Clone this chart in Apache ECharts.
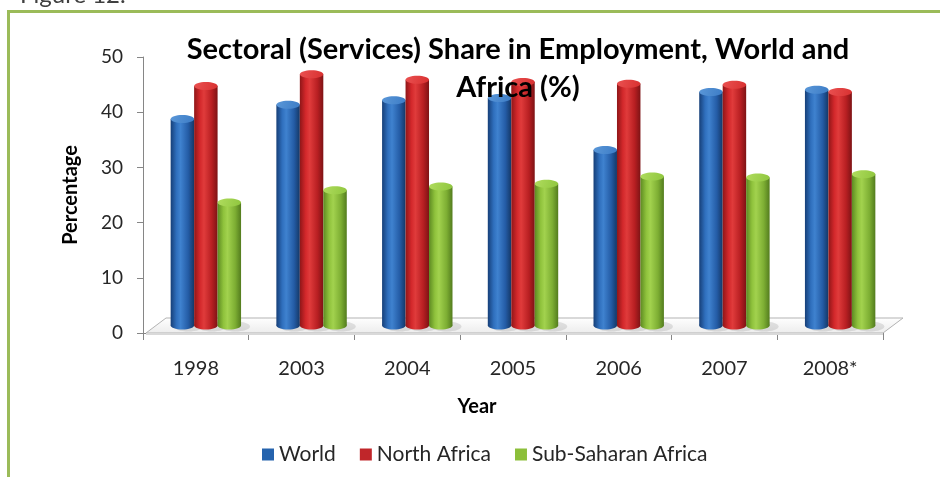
<!DOCTYPE html>
<html>
<head>
<meta charset="utf-8">
<script src="https://cdn.jsdelivr.net/npm/echarts@6/dist/echarts.min.js"></script>
<style>
  html, body { margin: 0; padding: 0; background: #ffffff; }
  #chart { width: 940px; height: 477px; }
</style>
</head>
<body>
<div id="chart"></div>
<script>
// Services share of total employment (%), by year and region
const years = ['1998', '2003', '2004', '2005', '2006', '2007', '2008*'];
const world = [37.4, 40.0, 40.8, 41.2, 31.8, 42.3, 42.7];
const northAfrica = [43.4, 45.5, 44.5, 44.1, 43.8, 43.6, 42.3];
const subSaharanAfrica = [22.3, 24.5, 25.2, 25.7, 27.0, 26.8, 27.4];
const seriesNames = ['World', 'North Africa', 'Sub-Saharan Africa'];
const yMin = 0, yMax = 50, yStep = 10;

const FONT = 'Lato, "Open Sans", sans-serif';
const FRAME_GREEN = '#9bbb59';
// oblique depth of the floor plate; columns stand half-way back
const DEPTH_X = 20, DEPTH_Y = -15;

const palettes = {
  World: {
    body: ['#163f78', '#2f6fbd', '#3f82cf', '#245ca6', '#143867'],
    top: ['#3c7cc6', '#5a97d8'],
    legend: '#2563ad'
  },
  'North Africa': {
    body: ['#8f1618', '#d3282b', '#e03b3b', '#b81f22', '#7e1315'],
    top: ['#d83030', '#ea5151'],
    legend: '#c0262a'
  },
  'Sub-Saharan Africa': {
    body: ['#5d8a22', '#8fc23c', '#a2d24e', '#7dae33', '#537c1e'],
    top: ['#8fc63e', '#b0dc5e'],
    legend: '#8cbf3a'
  }
};

function bodyGradient(c) {
  return new echarts.graphic.LinearGradient(0, 0, 1, 0, [
    { offset: 0, color: c[0] },
    { offset: 0.25, color: c[1] },
    { offset: 0.42, color: c[2] },
    { offset: 0.75, color: c[3] },
    { offset: 1, color: c[4] }
  ]);
}

// Draws one cylinder per data item; slot = -1, 0, 1 places it inside the year group
function cylinderRenderer(slot, pal) {
  return function (params, api) {
    const idx = api.value(0);
    const v = api.value(1);
    const band = api.size([1, 0])[0];
    const w = band * 0.222;
    const base = api.coord([idx, 0]);
    const top = api.coord([idx, v]);
    const cx = base[0] + slot * w + DEPTH_X / 2;
    const yb = base[1] + DEPTH_Y / 2;
    const yt = top[1] + DEPTH_Y / 2;
    const rx = w / 2, ry = 4;
    const fill = bodyGradient(pal.body);
    const capFill = new echarts.graphic.LinearGradient(0, 0, 1, 1, [
      { offset: 0, color: pal.top[1] },
      { offset: 1, color: pal.top[0] }
    ]);
    return {
      type: 'group',
      children: [
        { type: 'ellipse', shape: { cx: cx + 6, cy: yb + 1, rx: rx + 3, ry: ry + 1 },
          style: { fill: 'rgba(0,0,0,0.10)' } },
        { type: 'ellipse', shape: { cx: cx, cy: yb, rx: rx, ry: ry }, style: { fill: fill } },
        { type: 'rect', shape: { x: cx - rx, y: yt, width: w, height: yb - yt }, style: { fill: fill } },
        { type: 'ellipse', shape: { cx: cx, cy: yt, rx: rx, ry: ry }, style: { fill: capFill } }
      ]
    };
  };
}

// Floor plate spanning the category axis
function floorRenderer(params, api) {
  const band = api.size([1, 0])[0];
  const first = api.coord([0, 0]);
  const last = api.coord([years.length - 1, 0]);
  const xl = first[0] - band / 2 + 3;
  const xr = last[0] + band / 2;
  const y0 = first[1];
  const plate = [[xl, y0], [xr, y0], [xr + DEPTH_X, y0 + DEPTH_Y], [xl + DEPTH_X, y0 + DEPTH_Y]];
  return {
    type: 'group',
    children: [
      { type: 'polygon', shape: { points: plate },
        style: {
          fill: new echarts.graphic.LinearGradient(0, 0, 0, 1, [
            { offset: 0, color: '#ffffff' }, { offset: 1, color: '#ececec' }
          ]),
          stroke: '#b3b3b3', lineWidth: 1
        } },
      { type: 'polygon', shape: { points: [[xl, y0], [xr, y0], [xr, y0 + 2], [xl, y0 + 2]] },
        style: { fill: '#d9d9d9' } }
    ]
  };
}

function toItems(values) {
  return values.map((v, i) => [i, v]);
}

const chart = echarts.init(document.getElementById('chart'), null, { renderer: 'canvas' });

const seriesValues = [world, northAfrica, subSaharanAfrica];

const option = {
  backgroundColor: '#ffffff',
  animation: false,
  title: {
    text: 'Sectoral (Services) Share in Employment, World and\nAfrica (%)',
    left: 513,
    top: 26,
    textAlign: 'center',
    textStyle: {
      fontFamily: FONT,
      fontWeight: 'bold',
      fontSize: 29,
      lineHeight: 38,
      color: '#000000'
    }
  },
  legend: {
    data: seriesNames,
    left: 257,
    top: 439,
    icon: 'rect',
    itemWidth: 12,
    itemHeight: 12,
    itemGap: 24,
    textStyle: { fontFamily: FONT, fontSize: 21, color: '#262626' }
  },
  grid: { left: 143, right: 57, top: 57, bottom: 144, containLabel: false },
  xAxis: {
    type: 'category',
    data: years,
    axisLine: { show: true, lineStyle: { color: '#868686', width: 1 } },
    axisTick: { show: true, length: 7, lineStyle: { color: '#868686' } },
    axisLabel: { fontFamily: FONT, fontSize: 20, color: '#262626', margin: 26 }
  },
  yAxis: {
    type: 'value',
    min: yMin,
    max: yMax,
    interval: yStep,
    name: 'Percentage',
    nameLocation: 'middle',
    nameGap: 62,
    nameTextStyle: { fontFamily: FONT, fontWeight: 'bold', fontSize: 20, color: '#000000' },
    axisLine: { show: true, lineStyle: { color: '#868686', width: 1 } },
    axisTick: { show: true, length: 6, lineStyle: { color: '#868686' } },
    splitLine: { show: false },
    axisLabel: { fontFamily: FONT, fontSize: 19, color: '#262626', margin: 20 }
  },
  graphic: [
    { type: 'text', left: 20, top: -17,
      style: { text: 'Figure 12.', fontFamily: FONT, fontSize: 24, fill: '#404040' } },
    { type: 'rect', shape: { x: 7, y: 10, width: 933, height: 3 }, style: { fill: FRAME_GREEN } },
    { type: 'rect', shape: { x: 7, y: 10, width: 3, height: 467 }, style: { fill: FRAME_GREEN } },
    { type: 'text', x: 477, y: 407,
      style: { text: 'Year', fontFamily: FONT, fontWeight: 'bold', fontSize: 20, fill: '#000000',
               align: 'center', verticalAlign: 'middle' } }
  ],
  series: [
    {
      type: 'custom',
      name: 'floor',
      renderItem: floorRenderer,
      data: [[0, 0]],
      encode: { x: 0, y: 1 },
      silent: true,
      z: 1
    }
  ].concat(seriesNames.map((name, k) => ({
    type: 'custom',
    name: name,
    renderItem: cylinderRenderer(k - 1, palettes[name]),
    data: toItems(seriesValues[k]),
    encode: { x: 0, y: 1 },
    itemStyle: { color: palettes[name].legend },
    z: 2 + k
  })))
};

chart.setOption(option);
</script>
</body>
</html>
